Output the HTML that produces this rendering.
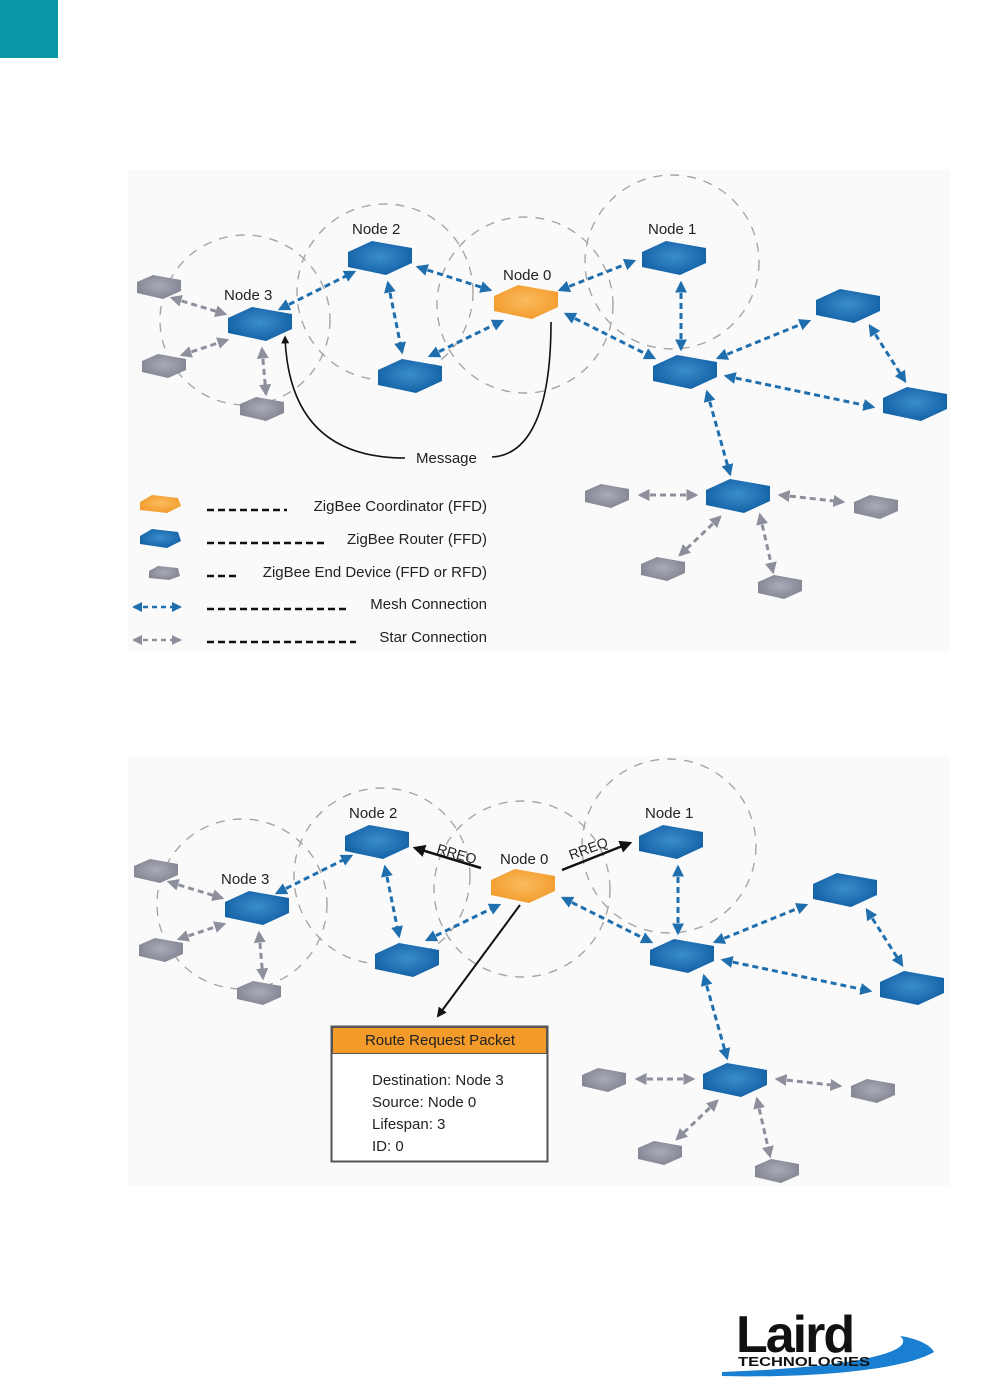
<!DOCTYPE html>
<html><head><meta charset="utf-8"><style>
html,body{margin:0;padding:0;background:#fff}
svg{display:block}
text{font-family:"Liberation Sans",sans-serif}
</style></head><body>
<svg width="1008" height="1392" viewBox="0 0 1008 1392" xmlns="http://www.w3.org/2000/svg">
<defs>
<marker id="ab" viewBox="0 0 10 10" refX="8" refY="5" markerWidth="4" markerHeight="4" orient="auto-start-reverse"><path d="M0,0 L10,5 L0,10 z" fill="#1f6fae"/></marker>
<marker id="ag" viewBox="0 0 10 10" refX="8" refY="5" markerWidth="4" markerHeight="4" orient="auto-start-reverse"><path d="M0,0 L10,5 L0,10 z" fill="#8d909c"/></marker>
<marker id="ak" viewBox="0 0 10 10" refX="8" refY="5" markerWidth="5" markerHeight="5" orient="auto-start-reverse"><path d="M0,0 L10,5 L0,10 z" fill="#111"/></marker>
<radialGradient id="gb" cx="50%" cy="45%" r="60%"><stop offset="0" stop-color="#3a8dcc"/><stop offset="1" stop-color="#115ea3"/></radialGradient>
<radialGradient id="go" cx="50%" cy="45%" r="60%"><stop offset="0" stop-color="#fbbb5e"/><stop offset="1" stop-color="#f29a2a"/></radialGradient>
<radialGradient id="gg" cx="50%" cy="45%" r="60%"><stop offset="0" stop-color="#a9acb8"/><stop offset="1" stop-color="#80838f"/></radialGradient>
<polygon id="rt" points="-32,-6 -8,-17 32,-10 32,5 6,17 -32,9" fill="url(#gb)"/>
<polygon id="co" points="-32,-6 -8,-17 32,-10 32,5 6,17 -32,9" fill="url(#go)"/>
<polygon id="ed" points="-22,-5 -6,-12 22,-7 22,4 4,12 -22,6" fill="url(#gg)"/>
<g id="net">
 <g fill="none" stroke="#a6a6a6" stroke-width="1.4" stroke-dasharray="9,8">
  <circle cx="245" cy="320" r="85"/>
  <circle cx="385" cy="292" r="88"/>
  <circle cx="525" cy="305" r="88"/>
  <circle cx="672" cy="262" r="87"/>
 </g>
 <g stroke="#1f6fae" stroke-width="3" stroke-dasharray="6,4" marker-start="url(#ab)" marker-end="url(#ab)">
  <line x1="280" y1="309" x2="354" y2="272"/>
  <line x1="388" y1="283" x2="402" y2="352"/>
  <line x1="430" y1="356" x2="502" y2="321"/>
  <line x1="566" y1="314" x2="654" y2="358"/>
  <line x1="681" y1="283" x2="681" y2="349"/>
  <line x1="718" y1="358" x2="809" y2="321"/>
  <line x1="870" y1="326" x2="905" y2="381"/>
  <line x1="726" y1="376" x2="873" y2="407"/>
  <line x1="707" y1="392" x2="730" y2="474"/>
 </g>
 <g stroke="#8d909c" stroke-width="3" stroke-dasharray="6,4" marker-start="url(#ag)" marker-end="url(#ag)">
  <line x1="172" y1="298" x2="225" y2="314"/>
  <line x1="182" y1="355" x2="227" y2="340"/>
  <line x1="262" y1="349" x2="266" y2="394"/>
  <line x1="640" y1="495" x2="696" y2="495"/>
  <line x1="780" y1="495" x2="843" y2="502"/>
  <line x1="720" y1="517" x2="680" y2="555"/>
  <line x1="760" y1="515" x2="773" y2="572"/>
 </g>
 <use href="#ed" x="159" y="287"/><use href="#ed" x="164" y="366"/><use href="#ed" x="262" y="409"/>
 <use href="#ed" x="607" y="496"/><use href="#ed" x="876" y="507"/><use href="#ed" x="663" y="569"/><use href="#ed" x="780" y="587"/>
 <use href="#rt" x="260" y="324"/><use href="#rt" x="380" y="258"/><use href="#rt" x="410" y="376"/>
 <use href="#rt" x="674" y="258"/><use href="#rt" x="685" y="372"/><use href="#rt" x="848" y="306"/>
 <use href="#rt" x="915" y="404"/><use href="#rt" x="738" y="496"/>
 <use href="#co" x="526" y="302"/>
</g>
</defs>
<rect x="0" y="0" width="58" height="58" fill="#0a97a5"/>
<rect x="128" y="170" width="822" height="482" fill="#fafafa"/>
<rect x="128" y="756" width="822" height="430" fill="#fafafa"/>

<use href="#net"/>
<g stroke="#1f6fae" stroke-width="3" stroke-dasharray="6,4" marker-start="url(#ab)" marker-end="url(#ab)">
  <line x1="418" y1="267" x2="490" y2="290"/>
  <line x1="560" y1="290" x2="634" y2="261"/>
</g>
<g font-size="15" fill="#222">
<text x="352" y="234">Node 2</text><text x="224" y="300">Node 3</text>
<text x="503" y="280">Node 0</text><text x="648" y="234">Node 1</text>
</g>
<path d="M551,322 C551,410 530,455 492,457" fill="none" stroke="#111" stroke-width="1.6"/>
<path d="M405,458 C330,458 288,420 285,337" fill="none" stroke="#111" stroke-width="1.6" marker-end="url(#ak)"/>
<text x="416" y="463" font-size="15" fill="#222">Message</text>

<!-- legend -->
<polygon points="140,502 152,495 178,498 181,506 167,513 140,510" fill="url(#go)"/>
<polygon points="140,536 152,529 178,532 181,541 167,548 140,544" fill="url(#gb)"/>
<polygon points="149,571 158,566 178,568 180,576 169,580 149,578" fill="url(#gg)"/>
<line x1="134" y1="607" x2="180" y2="607" stroke="#1f6fae" stroke-width="2.5" stroke-dasharray="5,4" marker-start="url(#ab)" marker-end="url(#ab)"/>
<line x1="134" y1="640" x2="180" y2="640" stroke="#8d909c" stroke-width="2.5" stroke-dasharray="5,4" marker-start="url(#ag)" marker-end="url(#ag)"/>
<g stroke="#111" stroke-width="2.5" stroke-dasharray="7,4">
<line x1="207" y1="510" x2="287" y2="510"/>
<line x1="207" y1="543" x2="324" y2="543"/>
<line x1="207" y1="576" x2="240" y2="576"/>
<line x1="207" y1="609" x2="346" y2="609"/>
<line x1="207" y1="642" x2="356" y2="642"/>
</g>
<g font-size="15" fill="#222" text-anchor="end">
<text x="487" y="511">ZigBee Coordinator (FFD)</text>
<text x="487" y="544">ZigBee Router (FFD)</text>
<text x="487" y="577">ZigBee End Device (FFD or RFD)</text>
<text x="487" y="609">Mesh Connection</text>
<text x="487" y="642">Star Connection</text>
</g>

<!-- bottom diagram -->
<use href="#net" transform="translate(-3,584)"/>
<g font-size="15" fill="#222">
<text x="349" y="818">Node 2</text><text x="221" y="884">Node 3</text>
<text x="500" y="864">Node 0</text><text x="645" y="818">Node 1</text>
</g>
<line x1="481" y1="868" x2="415" y2="848" stroke="#111" stroke-width="2.5" marker-end="url(#ak)"/>
<line x1="562" y1="870" x2="630" y2="843" stroke="#111" stroke-width="2.5" marker-end="url(#ak)"/>
<text x="436" y="853" font-size="14" fill="#222" transform="rotate(16 436 853)">RREQ</text>
<text x="571" y="860" font-size="14" fill="#222" transform="rotate(-20 571 860)">RREQ</text>
<line x1="520" y1="905" x2="438" y2="1016" stroke="#111" stroke-width="2" marker-end="url(#ak)"/>
<rect x="331.5" y="1026.5" width="216" height="135" fill="#fff" stroke="#555" stroke-width="2"/>
<rect x="332.5" y="1027.5" width="214" height="26" fill="#f29a2a" stroke="#555" stroke-width="1"/>
<text x="440" y="1045" font-size="15" fill="#222" text-anchor="middle">Route Request Packet</text>
<g font-size="15" fill="#222">
<text x="372" y="1085">Destination: Node 3</text>
<text x="372" y="1107">Source: Node 0</text>
<text x="372" y="1129">Lifespan: 3</text>
<text x="372" y="1151">ID: 0</text>
</g>

<!-- logo -->
<path d="M722,1376 C800,1378 900,1372 934,1352 C930,1344 915,1338 900,1336 C915,1348 880,1366 722,1372 z" fill="#1a7fd0"/>
<text x="736" y="1352" font-size="52" font-weight="bold" fill="#111" letter-spacing="-2">Laird</text>
<text x="738" y="1366" font-size="13" font-weight="bold" fill="#111" textLength="132" lengthAdjust="spacingAndGlyphs">TECHNOLOGIES</text>
</svg>
</body></html>
